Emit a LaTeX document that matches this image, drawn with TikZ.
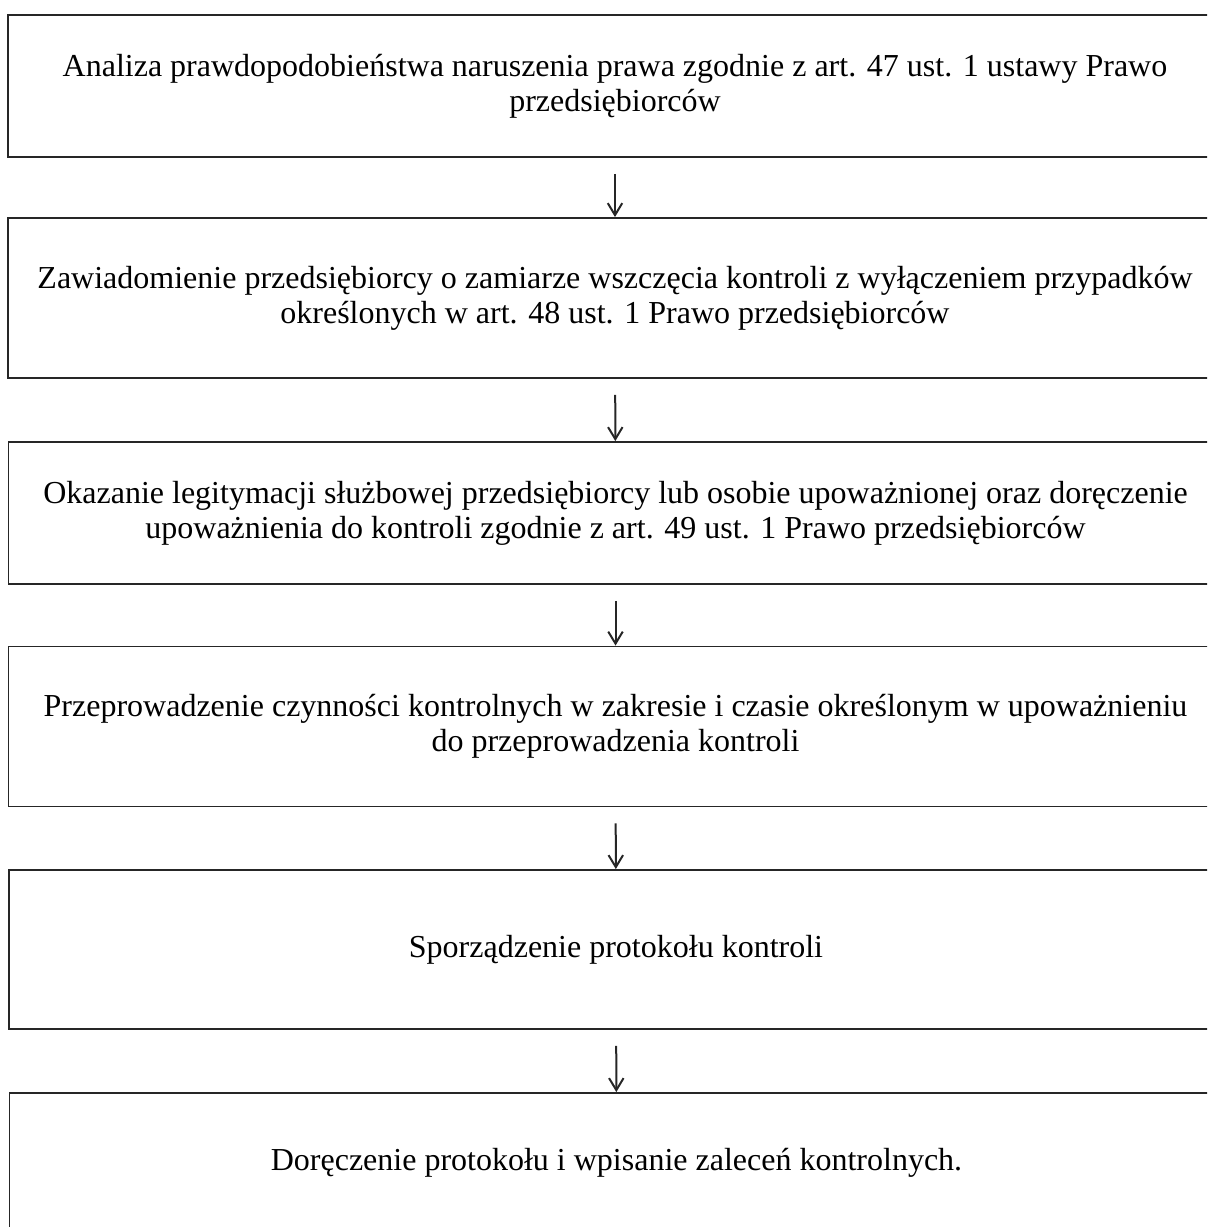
\documentclass[tikz,border=0pt]{standalone}
\usepackage{fontspec}
\setmainfont{Liberation Serif}
\usepackage{tikz}
\usetikzlibrary{arrows.meta}

\tikzset{
    krok/.style={draw=black!85, line width=0.75pt, inner sep=0pt, align=center,
        minimum width=485.6pt, font=\fontsize{12.8}{14}\selectfont},
    strzalka/.style={-{Straight Barb[length=4.8pt,width=5.8pt]}, line width=0.8pt,
        black!85, shorten <=6.4pt}
}

\begin{document}
\begin{tikzpicture}[x=0.4pt,y=-0.4pt]
    % Frame
    \useasboundingbox (0,0) rectangle (1207,1227);
    \clip (0,0) rectangle (1207,1227);

    % Boxes
    \node[krok, minimum height=56.8pt] (analiza) at (615,86)
        {Analiza prawdopodobieństwa naruszenia prawa zgodnie z art. 47 ust. 1 ustawy Prawo\\przedsiębiorców};
    \node[krok, minimum height=64pt] (zawiad) at (615,298)
        {Zawiadomienie przedsiębiorcy o zamiarze wszczęcia kontroli z wyłączeniem przypadków\\określonych w art. 48 ust. 1 Prawo przedsiębiorców};
    \node[krok, minimum height=56.8pt] (okazanie) at (615.5,513)
        {Okazanie legitymacji służbowej przedsiębiorcy lub osobie upoważnionej oraz doręczenie\\upoważnienia do kontroli zgodnie z art. 49 ust. 1 Prawo przedsiębiorców};
    \node[krok, minimum height=64pt] (czynnosci) at (615.5,726.5)
        {Przeprowadzenie czynności kontrolnych w zakresie i czasie określonym w upoważnieniu\\do przeprowadzenia kontroli};
    \node[krok, minimum height=63.6pt] (protokol) at (616,949.5)
        {Sporządzenie protokołu kontroli};
    \node[krok, minimum height=56pt] (doreczenie) at (616.5,1163)
        {Doręczenie protokołu i wpisanie zaleceń kontrolnych.};

    % Arrows
    \draw[strzalka] (analiza) -- (zawiad);
    \draw[strzalka] (zawiad) -- (okazanie);
    \draw[strzalka] (okazanie) -- (czynnosci);
    \draw[strzalka] (czynnosci) -- (protokol);
    \draw[strzalka] (protokol) -- (doreczenie);
\end{tikzpicture}
\end{document}
